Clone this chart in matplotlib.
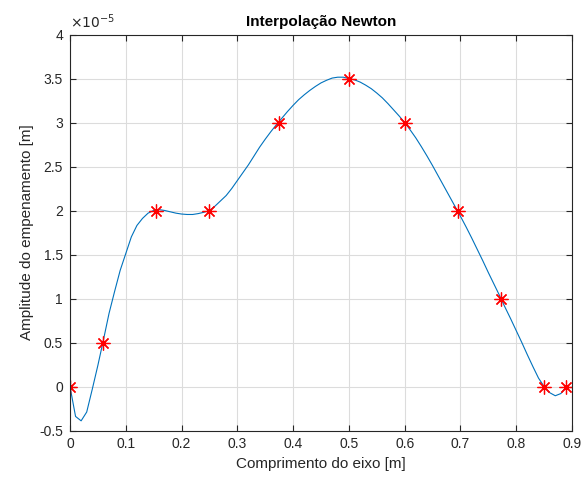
import matplotlib
matplotlib.use("Agg")
import matplotlib.pyplot as plt
import numpy as np
from matplotlib.ticker import FuncFormatter

plt.rcParams["font.family"] = ["Liberation Sans", "DejaVu Sans"]

# nodes (x in m, amplitude in units of 1e-5 m)
x_nodes = [0.0, 0.0586, 0.1536, 0.25, 0.374, 0.5, 0.6, 0.696, 0.772, 0.85, 0.89]
y_nodes = [0.0, 0.5, 2.0, 2.0, 3.0, 3.5, 3.0, 2.0, 1.0, 0.0, 0.0]

x_curve = [round(0.01 * i, 2) for i in range(90)]
y_curve = [
    0.00, -0.34, -0.39, -0.29, -0.03, 0.24, 0.53, 0.83, 1.08, 1.32,
    1.51, 1.70, 1.83, 1.91, 1.97, 2.00, 2.01, 2.00, 1.985, 1.97,
    1.96, 1.955, 1.955, 1.965, 1.98, 2.00, 2.05, 2.11, 2.17, 2.25,
    2.34, 2.43, 2.52, 2.62, 2.72, 2.81, 2.895, 2.975, 3.05, 3.125,
    3.195, 3.26, 3.315, 3.365, 3.41, 3.45, 3.48, 3.505, 3.515, 3.515,
    3.50, 3.485, 3.46, 3.425, 3.385, 3.335, 3.28, 3.215, 3.145, 3.075,
    3.00, 2.915, 2.825, 2.725, 2.62, 2.51, 2.395, 2.28, 2.165, 2.05,
    1.935, 1.815, 1.69, 1.56, 1.43, 1.295, 1.165, 1.035, 0.90, 0.77,
    0.635, 0.50, 0.36, 0.225, 0.095, 0.00, -0.07, -0.105, -0.08, 0.00,
]

x_ticks = [0, 0.1, 0.2, 0.3, 0.4, 0.5, 0.6, 0.7, 0.8, 0.9]
y_ticks = [-0.5, 0, 0.5, 1, 1.5, 2, 2.5, 3, 3.5, 4]

axis_color = "#262626"

fig = plt.figure(figsize=(5.88, 4.80), dpi=100)
ax = fig.add_axes([0.119, 0.1031, 0.8538, 0.8250])

ax.plot(x_curve, y_curve, color="#0072BD", linewidth=0.8)
# MATLAB-style asterisk: eight arms
ax.plot(x_nodes, y_nodes, linestyle="none", marker=(8, 2, 0), color="red",
        markersize=10, markeredgewidth=0.9)

ax.set_xlim(0, 0.9)
ax.set_ylim(-0.5, 4)
ax.set_xticks(x_ticks)
ax.set_yticks(y_ticks)
fmt = FuncFormatter(lambda v, _: f"{v:g}")
ax.xaxis.set_major_formatter(fmt)
ax.yaxis.set_major_formatter(fmt)

ax.grid(True, color="#dcdcdc", linewidth=0.8)
ax.set_axisbelow(True)
ax.tick_params(direction="in", length=4, width=0.8, colors=axis_color,
               labelsize=10, top=True, right=True, pad=5)
for spine in ax.spines.values():
    spine.set_color(axis_color)
    spine.set_linewidth(0.8)

ax.set_xlabel("Comprimento do eixo [m]", fontsize=11, color=axis_color)
ax.set_ylabel("Amplitude do empenamento [m]", fontsize=11, color=axis_color)
ax.set_title("Interpolação Newton", fontsize=11, fontweight="bold", color="black", pad=6)
ax.text(0.0, 1.008, r"$\times10^{-5}$", transform=ax.transAxes, fontsize=10,
        color=axis_color, ha="left", va="bottom")

fig.savefig("out.png", dpi=100)
